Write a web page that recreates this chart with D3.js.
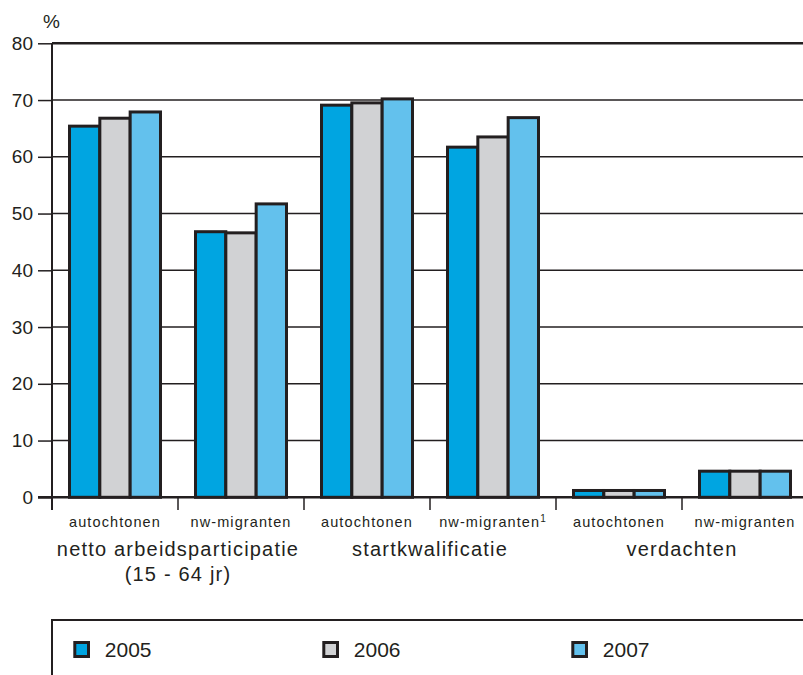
<!DOCTYPE html>
<html><head><meta charset="utf-8">
<script src="https://cdn.jsdelivr.net/npm/d3@7"></script>
<style>body{margin:0;background:#fff}svg{display:block;font-family:"Liberation Sans",Arial,sans-serif}</style>
</head><body><svg id="c" width="803" height="675"></svg>
<script>
const categories = ["autochtonen","nw-migranten","autochtonen","nw-migranten","autochtonen","nw-migranten"];
const superscripts = ["","","","1","",""];
const groups = [["netto arbeidsparticipatie","(15 - 64 jr)"],["startkwalificatie"],["verdachten"]];
const years = ["2005","2006","2007"];
const values2005 = [65.4, 46.8, 69.1, 61.7, 1.2, 4.6];
const values2006 = [66.8, 46.6, 69.5, 63.5, 1.2, 4.6];
const values2007 = [67.9, 51.7, 70.2, 66.9, 1.2, 4.6];
const yTicks = [0,10,20,30,40,50,60,70,80];
const colors = ["#00a5e1","#d1d2d4","#63c1ed"];
const series = [values2005, values2006, values2007];

(function(){
const svg = d3.select("#c");
const ink = "#231f20";
const mLeft = 52, mRight = 808, mTop = 43.3, mBottom = 497.3;
const y = d3.scaleLinear().domain([0,80]).range([mBottom, mTop]);
const x0 = d3.scaleBand().domain(d3.range(categories.length)).range([mLeft, mRight]);
const bw = x0.bandwidth();
const x1 = d3.scaleBand().domain(years).range([17.5, bw - 17.5]);

// gridlines
svg.append("g").selectAll("line").data(yTicks.filter(d => d > 0)).join("line")
  .attr("x1", mLeft).attr("x2", 803).attr("y1", d => y(d)).attr("y2", d => y(d))
  .attr("stroke", ink).attr("stroke-width", d => d === 80 ? 2.5 : 1.5);

// y axis
const yAxis = svg.append("g").attr("transform", `translate(${mLeft},0)`)
  .call(d3.axisLeft(y).tickValues(yTicks).tickSize(14).tickPadding(5));
yAxis.select(".domain").remove();
yAxis.selectAll(".tick line").attr("stroke", ink).attr("stroke-width", 1.5);
yAxis.selectAll(".tick text").attr("fill", ink).attr("font-size", 19).attr("font-family", "Liberation Sans, Arial, sans-serif");
svg.append("text").attr("x", 43).attr("y", 28).attr("font-size", 19).attr("fill", ink).text("%");

// bars
const bars = svg.append("g");
categories.forEach((c, i) => {
  years.forEach((yr, j) => {
    const v = series[j][i];
    bars.append("rect")
      .attr("x", x0(i) + x1(yr)).attr("width", x1.bandwidth())
      .attr("y", y(v)).attr("height", y(0) - y(v))
      .attr("fill", colors[j]).attr("stroke", ink).attr("stroke-width", 3);
  });
});

// axes lines
svg.append("line").attr("x1", mLeft).attr("x2", mLeft).attr("y1", mTop).attr("y2", 510)
  .attr("stroke", ink).attr("stroke-width", 2);
svg.append("line").attr("x1", mLeft - 14).attr("x2", 803).attr("y1", mBottom).attr("y2", mBottom)
  .attr("stroke", ink).attr("stroke-width", 2.5);
svg.append("g").selectAll("line").data(d3.range(categories.length)).join("line")
  .attr("x1", i => x0(i)).attr("x2", i => x0(i)).attr("y1", mBottom).attr("y2", 510)
  .attr("stroke", ink).attr("stroke-width", 1.5);

// category labels
const cl = svg.append("g").selectAll("text").data(categories).join("text")
  .attr("x", (d, i) => x0(i) + bw / 2).attr("y", 526.5)
  .attr("text-anchor", "middle").attr("font-size", 14.5).attr("letter-spacing", 1.1)
  .attr("fill", ink);
cl.each(function(d, i) {
  const t = d3.select(this);
  t.append("tspan").text(d);
  if (superscripts[i]) t.append("tspan").attr("font-size", 10).attr("dy", -5).text(superscripts[i]);
});

// group labels
groups.forEach((g, k) => {
  const cx = x0(k * 2) + bw;
  g.forEach((line, li) => {
    svg.append("text").attr("x", cx).attr("y", 556 + li * 24.5)
      .attr("text-anchor", "middle").attr("font-size", 20).attr("letter-spacing", 1.2)
      .attr("fill", ink).text(line);
  });
});

// legend
svg.append("path").attr("d", `M52,675 L52,620 L803,620`).attr("fill", "none")
  .attr("stroke", ink).attr("stroke-width", 2);
const lg = svg.append("g").selectAll("g").data(years).join("g")
  .attr("transform", (d, i) => `translate(${74.8 + i * 249},0)`);
lg.append("rect").attr("x", 0).attr("y", 642.5).attr("width", 13.7).attr("height", 14)
  .attr("fill", (d, i) => colors[i]).attr("stroke", ink).attr("stroke-width", 3);
lg.append("text").attr("x", 30).attr("y", 657).attr("font-size", 21).attr("fill", ink).text(d => d);
})();
</script></body></html>
